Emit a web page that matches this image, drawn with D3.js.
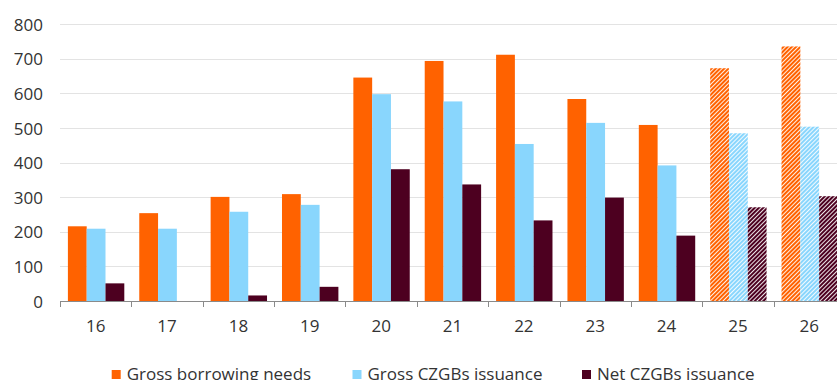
<!DOCTYPE html>
<html>
<head>
<meta charset="utf-8">
<script src="https://cdn.jsdelivr.net/npm/d3@7"></script>
<style>
  html, body { margin: 0; padding: 0; background: #fff; }
  svg { display: block; }
  text { font-family: "Open Sans", sans-serif; fill: #333; }
</style>
</head>
<body>
<svg id="chart" width="837" height="380"></svg>
<script>
const categories = ["16", "17", "18", "19", "20", "21", "22", "23", "24", "25", "26"];
const forecastCategories = ["25", "26"];
const seriesNames = ["Gross borrowing needs", "Gross CZGBs issuance", "Net CZGBs issuance"];
const grossBorrowing = [216, 254, 301, 309, 646, 694, 712, 584, 509, 673, 736];
const grossIssuance  = [209, 209, 258, 278, 598, 577, 454, 515, 392, 485, 504];
const netIssuance    = [51, 0, 16, 41, 381, 337, 233, 299, 189, 271, 303];
const yTicks = [0, 100, 200, 300, 400, 500, 600, 700, 800];
const colors = ["#FF6200", "#89D6FD", "#4D0020"];

const seriesValues = [grossBorrowing, grossIssuance, netIssuance];

const svg = d3.select("#chart");
const W = 837;

const x = d3.scaleBand().domain(categories).range([60, 845]).paddingInner(0).paddingOuter(0);
const x1 = d3.scaleBand().domain(seriesNames).range([7.9, 7.9 + 56.4]);
const y = d3.scaleLinear().domain([0, 800]).range([301, 24.3]);

// patterns for forecast bars
const defs = svg.append("defs");
const P = 3;
colors.forEach((c, i) => {
  const p = defs.append("pattern")
    .attr("id", "hatch" + i)
    .attr("patternUnits", "userSpaceOnUse")
    .attr("width", P).attr("height", P)
    .attr("patternTransform", "rotate(45)");
  p.append("rect").attr("width", P).attr("height", P).attr("fill", "#fff");
  p.append("rect").attr("x", 0).attr("y", 0).attr("width", 2.1).attr("height", P).attr("fill", c);
});

// gridlines
svg.append("g").selectAll("line").data(yTicks.filter(d => d > 0)).join("line")
  .attr("x1", 60).attr("x2", W)
  .attr("y1", d => Math.round(y(d)) + 0.5).attr("y2", d => Math.round(y(d)) + 0.5)
  .attr("stroke", "#e3e3e3").attr("stroke-width", 1);

// y labels
svg.append("g").selectAll("text").data(yTicks).join("text")
  .attr("x", 43).attr("y", d => y(d))
  .attr("text-anchor", "end").attr("dominant-baseline", "central")
  .style("font-size", "17px")
  .text(d => d);

// bars
const groups = svg.append("g").selectAll("g").data(categories).join("g")
  .attr("transform", d => `translate(${x(d)},0)`);
seriesNames.forEach((s, si) => {
  groups.append("rect")
    .attr("x", x1(s))
    .attr("width", x1.bandwidth())
    .attr("y", (d, i) => y(seriesValues[si][i]))
    .attr("height", (d, i) => y(0) - y(seriesValues[si][i]))
    .attr("fill", d => forecastCategories.includes(d) ? `url(#hatch${si})` : colors[si]);
});

// x axis line and boundary ticks
svg.append("line").attr("x1", 60).attr("x2", W).attr("y1", y(0) + 0.5).attr("y2", y(0) + 0.5)
  .attr("stroke", "#8a8a8a").attr("stroke-width", 1);
svg.append("g").selectAll("line").data(categories).join("line")
  .attr("x1", d => Math.round(x(d)) + 0.5).attr("x2", d => Math.round(x(d)) + 0.5)
  .attr("y1", y(0)).attr("y2", y(0) + 6)
  .attr("stroke", "#8a8a8a").attr("stroke-width", 1);

// x labels
svg.append("g").selectAll("text").data(categories).join("text")
  .attr("x", d => x(d) + x.bandwidth() / 2).attr("y", 332)
  .attr("text-anchor", "middle")
  .style("font-size", "17px")
  .text(d => d);

// legend
const legendX = [111.7, 352.5, 582];
const legend = svg.append("g").selectAll("g").data(seriesNames).join("g")
  .attr("transform", (d, i) => `translate(${legendX[i]},370)`);
legend.append("rect").attr("width", 9).attr("height", 9).attr("fill", (d, i) => colors[i]);
legend.append("text").attr("x", 15).attr("y", 9.5)
  .style("font-size", "17px")
  .text(d => d);
</script>
</body>
</html>
